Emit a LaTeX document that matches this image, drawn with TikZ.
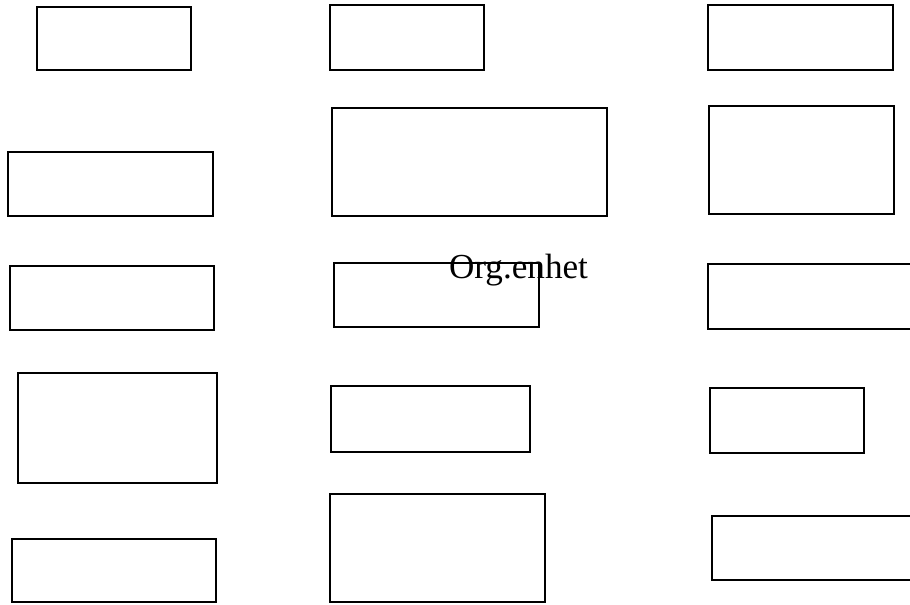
\documentclass[tikz,border=0pt]{standalone}
\usepackage{fontspec}
\setmainfont{Liberation Serif}
\usepackage{tikz}
\usetikzlibrary{positioning}

\begin{document}
\begin{tikzpicture}[
    unit/.style={draw, rectangle, line width=0.8pt, inner sep=0pt, fill=white},
    label/.style={font=\fontsize{20}{24}\selectfont, inner sep=0pt}
]
    \useasboundingbox (0,0) rectangle (18.2,-12.08);
    \clip (0,0) rectangle (18.2,-12.08);

    % Left column
    \node[unit, minimum width=3.08cm, minimum height=1.26cm] (a1) at (2.28,-0.77) {};
    \node[unit, minimum width=4.10cm, minimum height=1.28cm] (a2) at (2.21,-3.68) {};
    \node[unit, minimum width=4.08cm, minimum height=1.28cm] (a3) at (2.24,-5.96) {};
    \node[unit, minimum width=3.98cm, minimum height=2.20cm] (a4) at (2.35,-8.56) {};
    \node[unit, minimum width=4.08cm, minimum height=1.26cm] (a5) at (2.28,-11.41) {};

    % Middle column
    \node[unit, minimum width=3.08cm, minimum height=1.30cm] (b1) at (8.14,-0.75) {};
    \node[unit, minimum width=5.50cm, minimum height=2.16cm] (b2) at (9.39,-3.24) {};
    \node[unit, minimum width=4.10cm, minimum height=1.28cm] (b3) at (8.73,-5.90) {};
    \node[unit, minimum width=3.98cm, minimum height=1.32cm] (b4) at (8.61,-8.38) {};
    \node[unit, minimum width=4.30cm, minimum height=2.16cm] (b5) at (8.75,-10.96) {};

    % Right column
    \node[unit, minimum width=3.70cm, minimum height=1.30cm] (c1) at (16.01,-0.75) {};
    \node[unit, minimum width=3.70cm, minimum height=2.16cm] (c2) at (16.03,-3.20) {};
    \node[unit, minimum width=5.04cm, minimum height=1.30cm] (c3) at (16.68,-5.93) {};
    \node[unit, minimum width=3.08cm, minimum height=1.30cm] (c4) at (15.74,-8.41) {};
    \node[unit, minimum width=4.96cm, minimum height=1.28cm] (c5) at (16.72,-10.96) {};

    % Title
    \node[label] (org) at (10.37,-5.40) {Org.enhet};
\end{tikzpicture}
\end{document}
